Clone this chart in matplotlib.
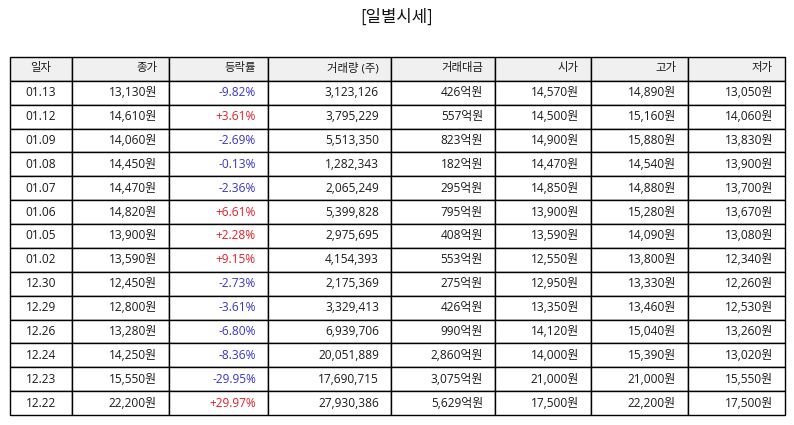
import matplotlib
matplotlib.use("Agg")
import matplotlib.pyplot as plt

plt.rcParams['font.family'] = ['Open Sans', 'Noto Sans CJK KR', 'DejaVu Sans']

title = "[일별시세]"
columns = ["일자", "종가", "등락률", "거래량 (주)", "거래대금", "시가", "고가", "저가"]
dates = ["01.13", "01.12", "01.09", "01.08", "01.07", "01.06", "01.05", "01.02",
         "12.30", "12.29", "12.26", "12.24", "12.23", "12.22"]
close = [13130, 14610, 14060, 14450, 14470, 14820, 13900, 13590,
         12450, 12800, 13280, 14250, 15550, 22200]
change = [-9.82, 3.61, -2.69, -0.13, -2.36, 6.61, 2.28, 9.15,
          -2.73, -3.61, -6.80, -8.36, -29.95, 29.97]
volume = [3123126, 3795229, 5513350, 1282343, 2065249, 5399828, 2975695, 4154393,
          2175369, 3329413, 6939706, 20051889, 17690715, 27930386]
amount = [426, 557, 823, 182, 295, 795, 408, 553, 275, 426, 990, 2860, 3075, 5629]
open_ = [14570, 14500, 14900, 14470, 14850, 13900, 13590, 12550,
         12950, 13350, 14120, 14000, 21000, 17500]
high = [14890, 15160, 15880, 14540, 14880, 15280, 14090, 13800,
        13330, 13460, 15040, 15390, 21000, 22200]
low = [13050, 14060, 13830, 13900, 13700, 13670, 13080, 12340,
       12260, 12530, 13260, 13020, 15550, 17500]

W, H = 794, 425
fig = plt.figure(figsize=(W / 100, H / 100), dpi=100)
ax = fig.add_axes([0, 0, 1, 1])
ax.axis('off')

rows = []
for i in range(len(dates)):
    rows.append([
        dates[i],
        f"{close[i]:,}원",
        f"{change[i]:+.2f}%",
        f"{volume[i]:,}",
        f"{amount[i]:,}억원",
        f"{open_[i]:,}원",
        f"{high[i]:,}원",
        f"{low[i]:,}원",
    ])

col_px = [62, 97, 99, 123, 104, 96, 97, 97]
total = sum(col_px)
col_w = [c / total for c in col_px]

left, right, top, bottom = 10, 785, 57, 415
tbl = ax.table(cellText=rows, colLabels=columns, colWidths=col_w,
               bbox=[left / W, (H - bottom) / H, (right - left) / W, (bottom - top) / H],
               cellLoc='right', colLoc='right')
tbl.auto_set_font_size(False)
tbl.set_fontsize(8.6)

blue = '#3535c8'
red = '#e0202a'
for (r, c), cell in tbl.get_celld().items():
    cell.set_edgecolor('black')
    cell.set_linewidth(1.0)
    cell.PAD = 12 / col_px[c]
    txt = cell.get_text()
    txt.set_color('#1a1a1a')
    if r == 0:
        txt.set_fontsize(8.2)
    if c == 0:
        cell._loc = 'center'
        txt.set_ha('center')
    else:
        cell._loc = 'right'
        txt.set_ha('right')
    if r == 0:
        cell.set_facecolor('#f0f0f0')
    else:
        cell.set_facecolor('white')
        if c == 2:
            txt.set_color(red if change[r - 1] > 0 else blue)

fig.text(0.5, 1 - 17 / H, title, ha='center', va='center', fontsize=12, color='#111111',
         family=['Noto Sans CJK KR', 'DejaVu Sans'])

fig.savefig("out.png", dpi=100)
